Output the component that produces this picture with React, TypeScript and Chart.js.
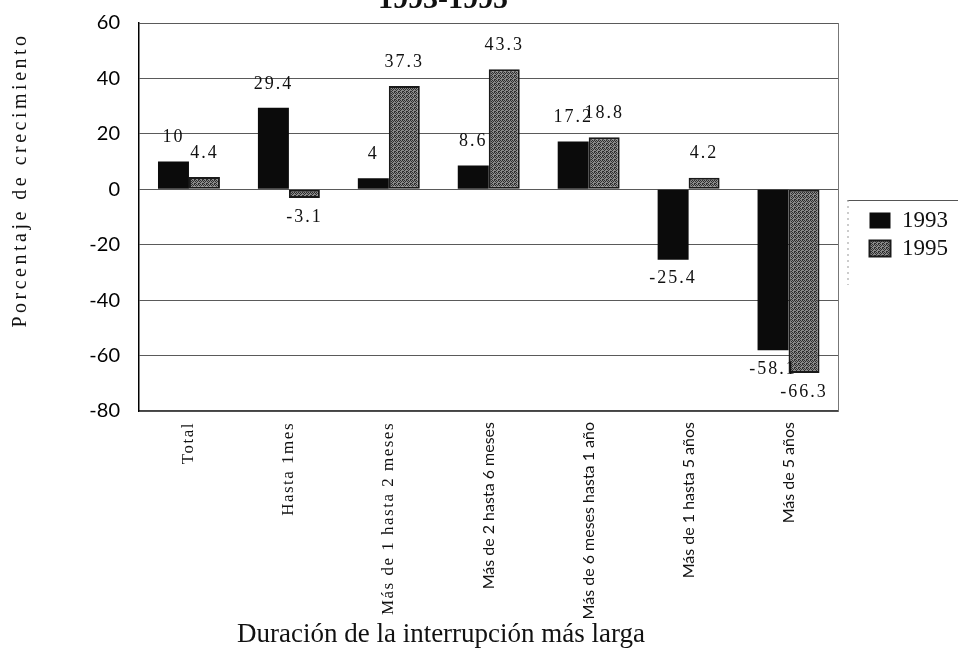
import React, { useEffect, useRef } from "react";
import { Chart, registerables } from "chart.js";

Chart.register(...registerables);

// ---- data ----
const categories = [
  "Total",
  "Hasta 1mes",
  "Más de 1 hasta 2 meses",
  "Más de 2 hasta 6 meses",
  "Más de 6 meses hasta 1 año",
  "Más de 1 hasta 5 años",
  "Más de 5 años",
];
const values1993 = [10, 29.4, 4, 8.6, 17.2, -25.4, -58.1];
const values1995 = [4.4, -3.1, 37.3, 43.3, 18.8, 4.2, -66.3];
const seriesLabels = ["1993", "1995"];
const yMin = -80;
const yMax = 60;
const yStep = 20;
const chartTitle = "1993-1995";
const yTitle = "Porcentaje de crecimiento";
const xTitle = "Duración de la interrupción más larga";

const SERIF = "'Liberation Serif', 'Times New Roman', serif";
const SANS = "Lato, 'Open Sans', sans-serif";

function makePattern(): CanvasPattern | string {
  const c = document.createElement("canvas");
  c.width = 4;
  c.height = 4;
  const g = c.getContext("2d");
  if (!g) return "#666";
  g.fillStyle = "#8a8a8a";
  g.fillRect(0, 0, 4, 4);
  g.fillStyle = "#2e2e2e";
  [
    [0, 0],
    [2, 0],
    [1, 1],
    [3, 1],
    [0, 2],
    [2, 3],
    [3, 3],
  ].forEach(([x, y]) => g.fillRect(x, y, 1, 1));
  return g.createPattern(c, "repeat") || "#666";
}

const textPlugin = {
  id: "customTexts",
  afterDraw(chart: any) {
    const ctx: CanvasRenderingContext2D = chart.ctx;
    const area = chart.chartArea;
    const xs = chart.scales.x;
    ctx.save();
    ctx.fillStyle = "#111";

    // chart title (cut at the top like the scan)
    ctx.font = `bold 30px ${SERIF}`;
    ctx.textAlign = "center";
    ctx.textBaseline = "alphabetic";
    ctx.fillText(chartTitle, 443, 8);

    // x axis title
    ctx.font = `27px ${SERIF}`;
    ctx.fillText(xTitle, 441, 642);

    // y axis title
    ctx.save();
    ctx.translate(21, 180);
    ctx.rotate(-Math.PI / 2);
    (ctx as any).letterSpacing = "3.5px";
    ctx.font = `20px ${SERIF}`;
    ctx.textAlign = "center";
    ctx.textBaseline = "middle";
    ctx.fillText(yTitle, 0, 0);
    ctx.restore();

    // category labels (rotated)
    categories.forEach((c, i) => {
      const px = xs.getPixelForTick(i);
      ctx.save();
      ctx.translate(px, area.bottom + 11);
      ctx.rotate(-Math.PI / 2);
      ctx.textAlign = "right";
      ctx.textBaseline = "middle";
      if (i < 3) {
        ctx.font = `17px ${SERIF}`;
        (ctx as any).letterSpacing = "1.5px";
      } else {
        ctx.font = `16px ${SANS}`;
        (ctx as any).letterSpacing = "0px";
      }
      ctx.fillText(c, 0, 0);
      ctx.restore();
    });

    // value labels
    ctx.save();
    ctx.font = `18px ${SERIF}`;
    (ctx as any).letterSpacing = "2px";
    ctx.textAlign = "center";
    ctx.textBaseline = "middle";
    chart.data.datasets.forEach((ds: any, di: number) => {
      const meta = chart.getDatasetMeta(di);
      meta.data.forEach((bar: any, i: number) => {
        const v = ds.data[i];
        const p = bar.getProps(["x", "y"], true);
        const ty = v >= 0 ? p.y - 24 : p.y + 19;
        ctx.fillText(String(v), p.x, ty);
      });
    });
    ctx.restore();

    // legend frame (partial, like the scan)
    const lx = area.right + 9;
    ctx.strokeStyle = "#555";
    ctx.lineWidth = 1;
    ctx.beginPath();
    ctx.moveTo(lx, 200.5);
    ctx.lineTo(958, 200.5);
    ctx.stroke();
    ctx.strokeStyle = "#999";
    ctx.setLineDash([2, 4]);
    ctx.beginPath();
    ctx.moveTo(lx + 0.5, 200);
    ctx.lineTo(lx + 0.5, 285);
    ctx.stroke();
    ctx.restore();
  },
};

export default function App() {
  const ref = useRef<HTMLCanvasElement>(null);

  useEffect(() => {
    const canvas = ref.current;
    if (!canvas) return;
    const pattern = makePattern();
    const chart = new Chart(canvas, {
      type: "bar",
      data: {
        labels: categories,
        datasets: [
          {
            label: seriesLabels[0],
            data: values1993,
            backgroundColor: "#0b0b0b",
            borderWidth: 0,
            categoryPercentage: 0.62,
            barPercentage: 1.0,
          },
          {
            label: seriesLabels[1],
            data: values1995,
            backgroundColor: pattern as any,
            borderColor: "#1a1a1a",
            borderWidth: 2,
            borderSkipped: false,
            categoryPercentage: 0.62,
            barPercentage: 1.0,
          },
        ],
      },
      options: {
        responsive: false,
        animation: false,
        layout: { padding: { top: 23, bottom: 242, left: 0, right: 0 } },
        plugins: {
          title: { display: false },
          tooltip: { enabled: false },
          legend: {
            position: "right",
            align: "center",
            title: {
              display: true,
              text: " ",
              font: { size: 1 },
              padding: { top: 34, bottom: 0 },
            },
            labels: {
              boxWidth: 21,
              boxHeight: 16,
              padding: 5,
              color: "#111",
              font: { family: SERIF, size: 23 },
            },
          },
        },
        scales: {
          x: {
            display: true,
            grid: { display: false, drawTicks: false },
            ticks: { display: false },
            border: { display: true, color: "#444", width: 1.5 },
          },
          y: {
            min: yMin,
            max: yMax,
            ticks: {
              stepSize: yStep,
              padding: 19,
              color: "#000",
              font: { family: SANS, size: 20 },
            },
            grid: { color: "#5a5a5a", lineWidth: 1, drawTicks: false },
            border: { display: true, color: "#000", width: 1.5 },
            afterFit: (s: any) => {
              s.width = 139;
              s.paddingTop = 0;
              s.paddingBottom = 0;
            },
          },
          y2: {
            position: "right",
            display: true,
            min: yMin,
            max: yMax,
            grid: { display: false, drawTicks: false },
            ticks: { display: false },
            border: { display: true, color: "#777", width: 1, dash: [2, 2] },
            afterFit: (s: any) => {
              s.width = 26;
              s.paddingTop = 0;
              s.paddingBottom = 0;
            },
          },
        },
      },
      plugins: [textPlugin],
    });
    return () => chart.destroy();
  }, []);

  return (
    <div
      style={{
        position: "absolute",
        left: 0,
        top: 0,
        width: 958,
        height: 653,
        background: "#fff",
      }}
    >
      <canvas ref={ref} width={958} height={653} style={{ display: "block" }} />
    </div>
  );
}
